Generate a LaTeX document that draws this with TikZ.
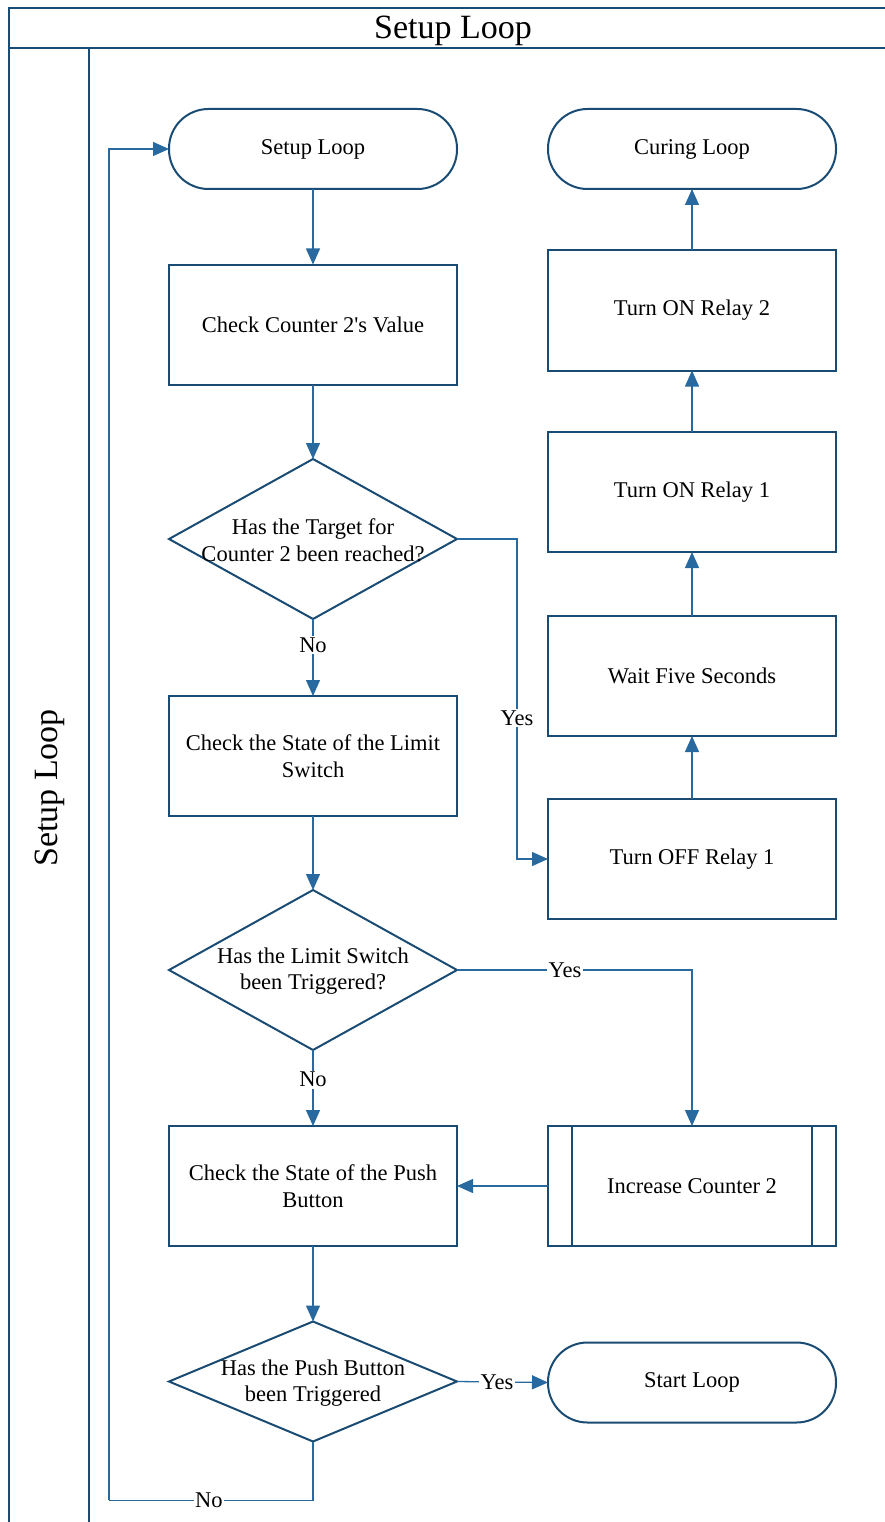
\documentclass[tikz,border=0pt]{standalone}
\usepackage{fontspec}
\setmainfont{Liberation Serif}
\usetikzlibrary{arrows.meta,shapes.geometric}
\definecolor{edgeblue}{RGB}{25,75,115}
\definecolor{flowblue}{RGB}{40,105,160}
\begin{document}
\begin{tikzpicture}[x=1pt,y=-1pt,
  base/.style={draw=edgeblue,line width=2pt,fill=white,inner sep=0pt,outer sep=0pt,
    align=center,font=\fontsize{22.5}{26.5}\selectfont},
  terminal/.style={base,rectangle,rounded corners=39.5pt,minimum width=288pt,minimum height=80pt},
  process/.style={base,rectangle,minimum width=288pt,minimum height=120pt},
  decision/.style={base,diamond,minimum width=288pt,minimum height=160pt},
  dtext/.style={align=center,font=\fontsize{22.5}{26.5}\selectfont,inner sep=0pt},
  flow/.style={draw=flowblue,line width=1.3pt,-{Triangle[length=16pt,width=14pt]}},
  link/.style={draw=flowblue,line width=1.3pt},
  tag/.style={fill=white,inner sep=1.5pt,font=\fontsize{22.5}{26.5}\selectfont},
  frame/.style={draw=edgeblue,line width=2.5pt}]
\useasboundingbox (0,0) rectangle (885,1522);

% swimlane frame
\draw[frame] (9,1522) -- (9,8) -- (885,8);
\draw[frame] (9,48) -- (885,48);
\draw[frame] (89,48) -- (89,1522);
\node[font=\fontsize{34}{38}\selectfont] (title) at (453,31) {Setup Loop};
\node[font=\fontsize{34}{38}\selectfont,rotate=90] (lane) at (50,788) {Setup Loop};

% left column
\node[terminal] (setup) at (313,149) {Setup Loop};
\node[process] (cnt) at (313,324.5) {Check Counter 2\textquotesingle s Value};
\node[decision] (d1) at (313,539) {};
\node[dtext] (d1t) at (313,540) {Has the Target for\\Counter 2 been reached?};
\node[process] (lim) at (313,756) {Check the State of the Limit\\Switch};
\node[decision] (d2) at (313,970) {};
\node[dtext] (d2t) at (313,971) {Has the Limit Switch\\been Triggered?};
\node[process] (push) at (313,1186) {Check the State of the Push\\Button};
\node[decision,minimum height=120pt] (d3) at (313,1381.5) {};
\node[dtext] (d3t) at (313,1383) {Has the Push Button\\been Triggered};

% right column
\node[terminal] (cure) at (692,149) {Curing Loop};
\node[process] (on2) at (692,310.5) {Turn ON Relay 2};
\node[process] (on1) at (692,492) {Turn ON Relay 1};
\node[process] (wait) at (692,676) {Wait Five Seconds};
\node[process] (off1) at (692,859) {Turn OFF Relay 1};
\node[process] (inc) at (692,1186) {Increase Counter 2};
\draw[edgeblue,line width=2pt] ([xshift=24pt]inc.north west) -- ([xshift=24pt]inc.south west);
\draw[edgeblue,line width=2pt] ([xshift=-24pt]inc.north east) -- ([xshift=-24pt]inc.south east);
\node[terminal] (start) at (692,1382.5) {Start Loop};

% connectors
\draw[flow] (setup) -- (cnt);
\draw[flow] (cnt) -- (d1);
\draw[flow] (d1) -- node[tag,pos=0.34]{No} (lim);
\draw[flow] (d1.east) -- ++(60,0) |- node[tag,pos=0.28]{Yes} (off1.west);
\draw[flow] (lim) -- (d2);
\draw[flow] (d2) -- node[tag,pos=0.39]{No} (push);
\draw[flow] (d2.east) -| node[tag,pos=0.23]{Yes} (inc.north);
\draw[flow] (inc.west) -- (push.east);
\draw[flow] (push) -- (d3);
\draw[flow] (d3.east) -- node[tag,pos=0.44]{Yes} (start.west);
\draw[link] (d3.south) -- ++(0,59) -- node[tag,pos=0.51]{No} ++(-204,0);
\draw[flow] (109,1500) |- (setup.west);
\draw[flow] (off1) -- (wait);
\draw[flow] (wait) -- (on1);
\draw[flow] (on1) -- (on2);
\draw[flow] (on2) -- (cure);
\end{tikzpicture}
\end{document}
